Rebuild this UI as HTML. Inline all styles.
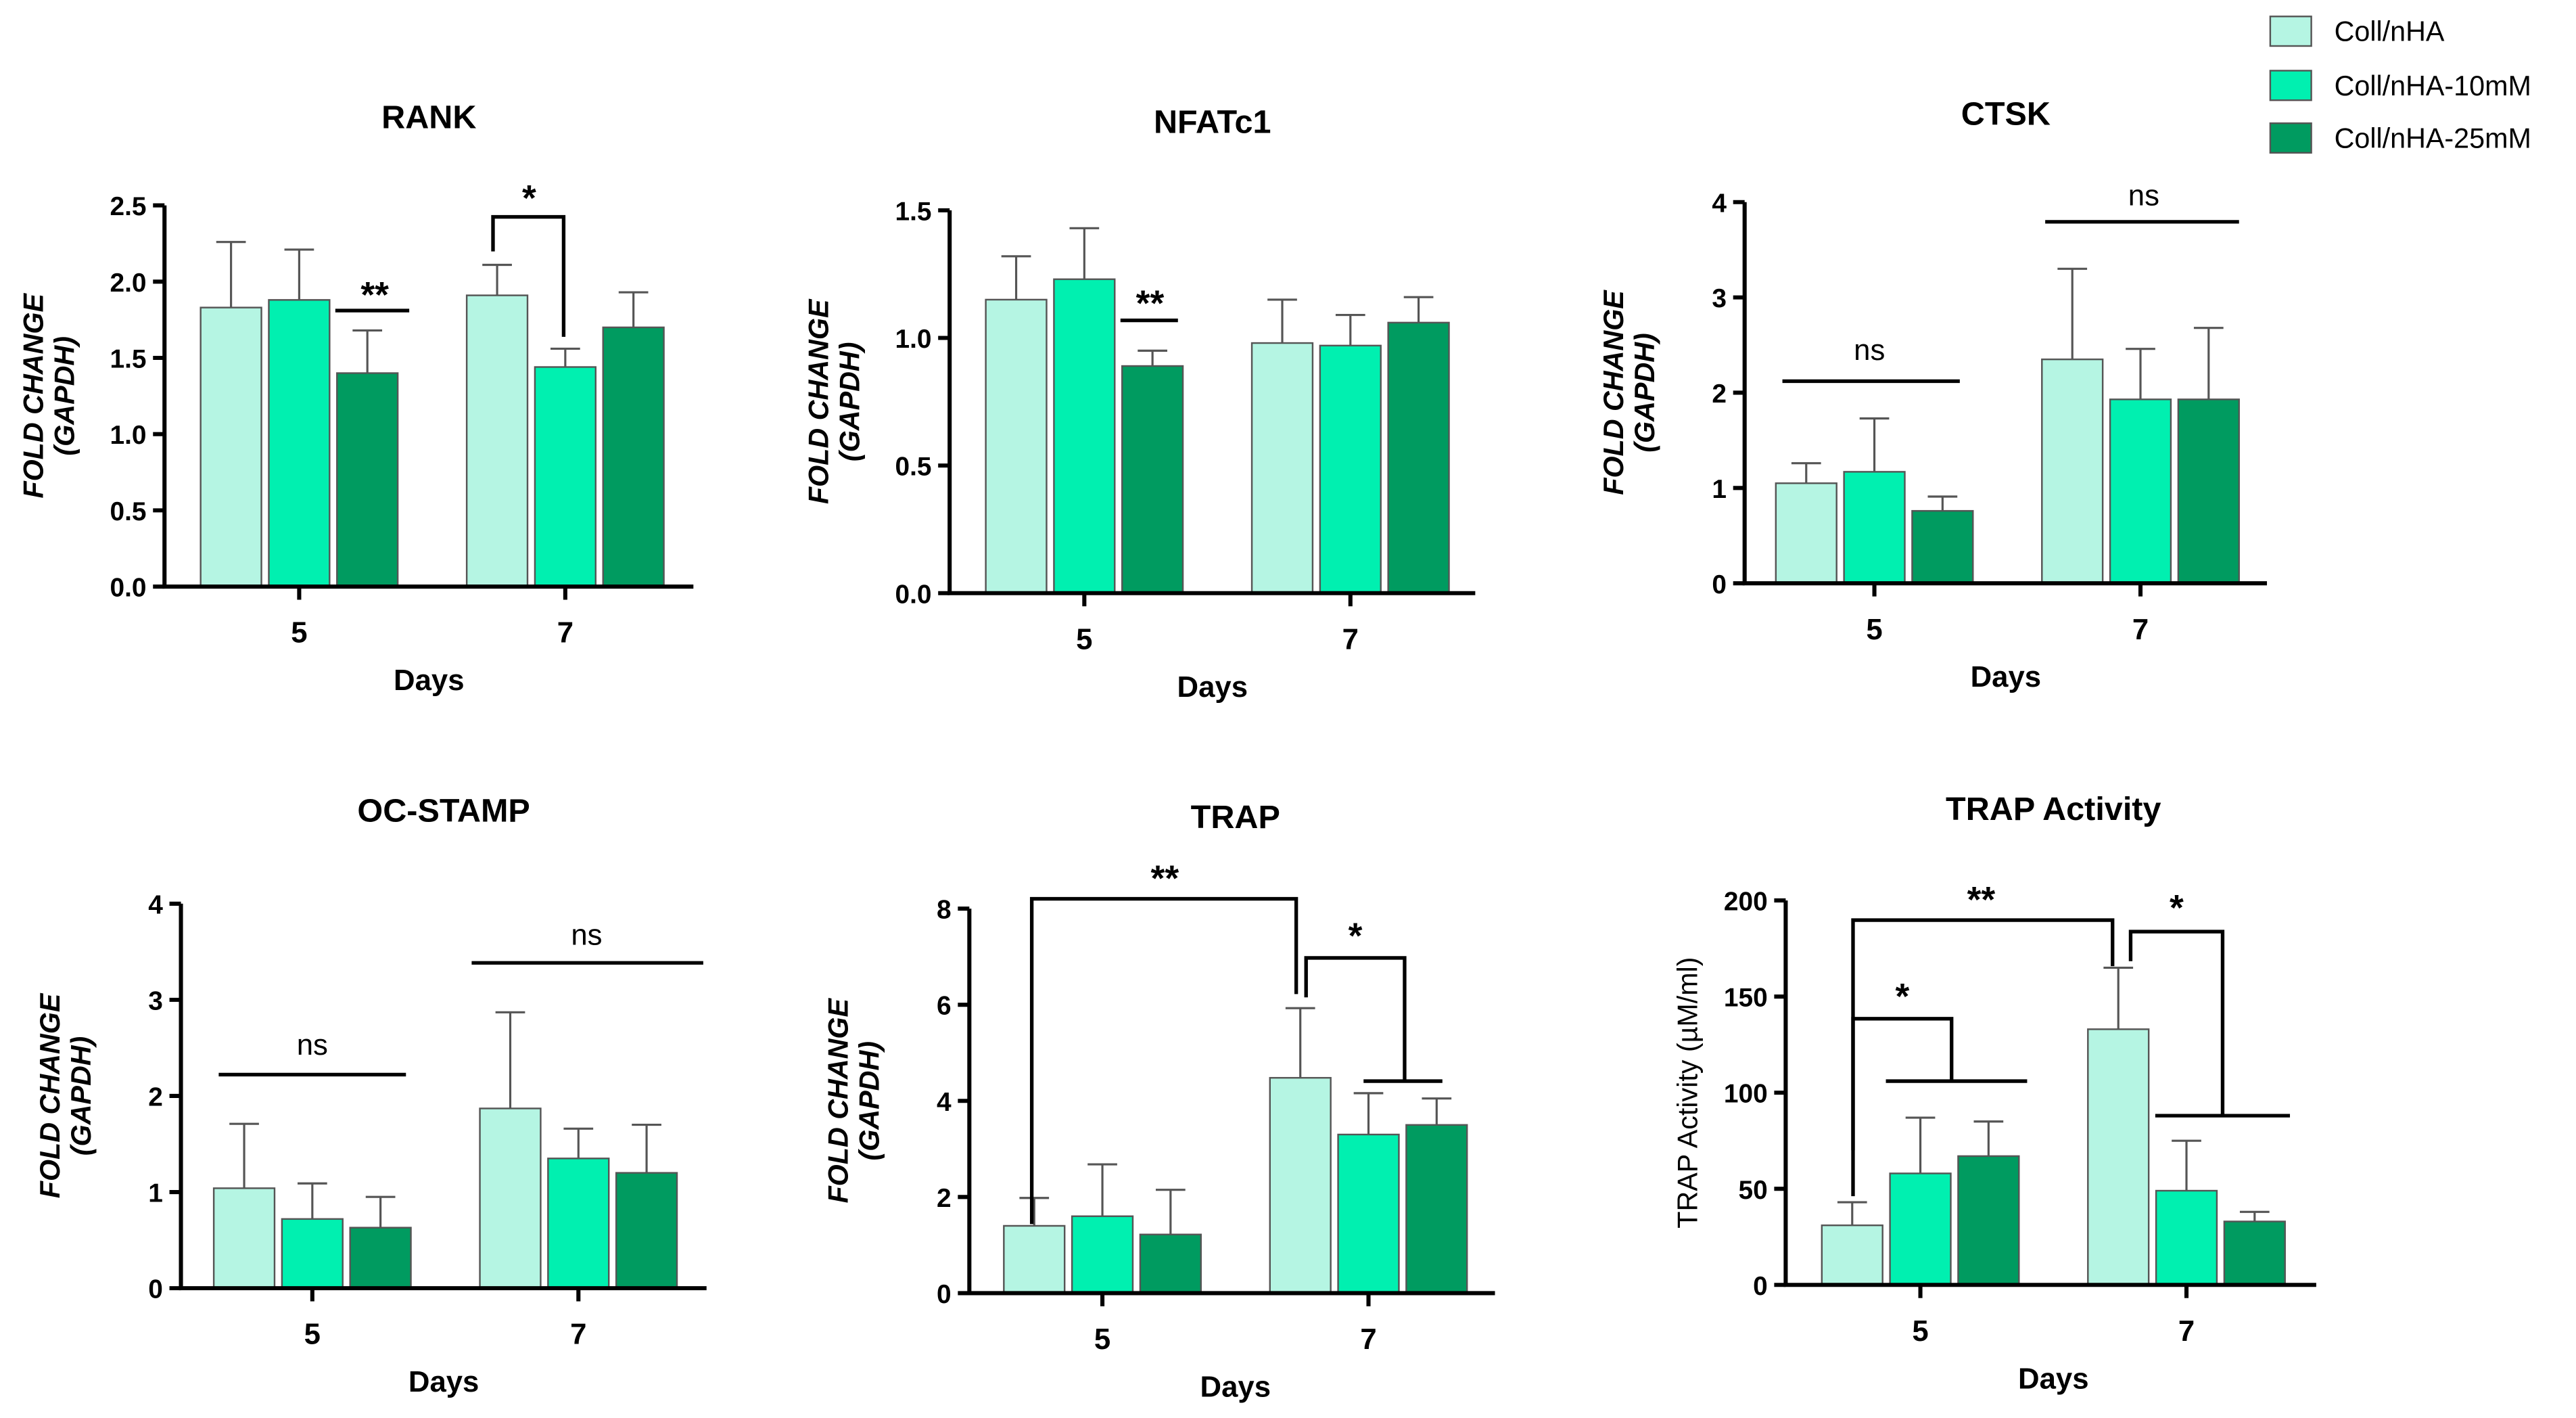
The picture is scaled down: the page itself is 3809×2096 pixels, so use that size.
<!DOCTYPE html>
<html><head><meta charset="utf-8"><style>
html,body{margin:0;padding:0;background:#fff;}
svg{display:block;}
text{font-family:"Liberation Sans",Arial,sans-serif;fill:#000;}
.tick{font-family:"Liberation Sans Narrow","Liberation Sans",sans-serif;font-weight:bold;font-size:16px;}
.title{font-weight:bold;font-size:20px;}
.cat{font-weight:bold;font-size:18px;}
.ytitle{font-weight:bold;font-style:italic;font-size:17px;}
.sig{font-weight:bold;font-size:22px;}
.ns{font-weight:normal;font-size:18px;}
.leg{font-size:17px;}
</style></head><body>
<svg id="fig" width="3809" height="2096" viewBox="0 0 1568 863" xmlns="http://www.w3.org/2000/svg">
<g id="legend">
 <g><rect x="1382" y="10" width="25" height="18" fill="#b5f5e3" stroke="#555"/><text class="leg" x="1421" y="25">Coll/nHA</text></g>
 <g><rect x="1382" y="43" width="25" height="18" fill="#00f0b0" stroke="#555"/><text class="leg" x="1421" y="58">Coll/nHA-10mM</text></g>
 <g><rect x="1382" y="75" width="25" height="18" fill="#009b60" stroke="#555"/><text class="leg" x="1421" y="90">Coll/nHA-25mM</text></g>
</g>
</svg>
<script>
const categories = ["5","7"];
const seriesNames = ["Coll/nHA","Coll/nHA-10mM","Coll/nHA-25mM"];
const rankMeans = [[1.83,1.88,1.40],[1.91,1.44,1.70]];
const rankErr = [[2.26,2.21,1.68],[2.11,1.56,1.93]];
const nfatMeans = [[1.15,1.23,0.89],[0.98,0.97,1.06]];
const nfatErr = [[1.32,1.43,0.95],[1.15,1.09,1.16]];
const ctskMeans = [[1.05,1.17,0.76],[2.35,1.93,1.93]];
const ctskErr = [[1.26,1.73,0.91],[3.30,2.46,2.68]];
const ocMeans = [[1.04,0.72,0.63],[1.87,1.35,1.20]];
const ocErr = [[1.71,1.09,0.95],[2.87,1.66,1.70]];
const trapMeans = [[1.40,1.60,1.22],[4.48,3.30,3.50]];
const trapErr = [[1.98,2.68,2.15],[5.93,4.16,4.05]];
const actMeans = [[31,58,67],[133,49,33]];
const actErr = [[43,87,85],[165,75,38]];
const rankTicks = ["0.0","0.5","1.0","1.5","2.0","2.5"];
const nfatTicks = ["0.0","0.5","1.0","1.5"];
const ctskTicks = ["0","1","2","3","4"];
const ocTicks = ["0","1","2","3","4"];
const trapTicks = ["0","2","4","6","8"];
const actTicks = ["0","50","100","150","200"];
const colors = ["#b5f5e3","#00f0b0","#009b60"];

const NS="http://www.w3.org/2000/svg";
const fig=document.getElementById('fig');
function mk(tag,attrs,parent){const e=document.createElementNS(NS,tag);for(const k in attrs)e.setAttribute(k,attrs[k]);(parent||fig).appendChild(e);return e;}

function panel(p){
 const g=mk('g',{});
 
 
 const max=+p.ticks[p.ticks.length-1];
 const y=v=>p.y0-(v/max)*(p.y0-p.yTop);
 const gx=p.groupX;
 const bw=37, step=41.5;
 const barX=(gi,si)=>gx[gi]+si*step;
 p.means.forEach((grp,gi)=>grp.forEach((v,si)=>{
  const bx=barX(gi,si);
  const eTop=y(p.err[gi][si]);
  const el=mk('line',{x1:bx+bw/2,x2:bx+bw/2,y1:y(v),y2:eTop,stroke:'#555','stroke-width':1.3},g);
  
  
  const cap=mk('line',{x1:bx+bw/2-9,x2:bx+bw/2+9,y1:eTop,y2:eTop,stroke:'#555','stroke-width':1.3},g);
  
  
  const r=mk('rect',{x:bx,y:y(v),width:bw,height:p.y0-y(v),fill:colors[si],stroke:'#555','stroke-width':1},g);
  
  
 }));
 const ax=mk('path',{d:`M${p.axX},${p.yTop}V${p.y0}H${p.axEnd}`,stroke:'#000','stroke-width':2.5,fill:'none'},g);
 
 
 p.ticks.forEach(t=>{
  const ty=y(+t);
  mk('line',{x1:p.axX-7,x2:p.axX,y1:ty,y2:ty,stroke:'#000','stroke-width':2.5},g);
  const tx=mk('text',{x:p.axX-11,y:ty+6,'text-anchor':'end',class:'tick'},g);
  tx.textContent=t;
  
  
 });
 categories.forEach((c,gi)=>{
  const cx=barX(gi,1)+bw/2;
  mk('line',{x1:cx,x2:cx,y1:p.y0,y2:p.y0+8,stroke:'#000','stroke-width':2.5},g);
  const t=mk('text',{x:cx,y:p.y0+34,'text-anchor':'middle',class:'cat'},g);
  t.textContent=c;
  
  
 });
 const mid=(p.axX+p.axEnd)/2;
 const tt=mk('text',{x:p.titleX||mid,y:p.titleY,'text-anchor':'middle',class:'title'},g);
 tt.textContent=p.title;
 
 
 const dx=mk('text',{x:p.titleX||mid,y:p.y0+63,'text-anchor':'middle',class:'cat'},g);
 dx.textContent='Days';
 
 
 const yc=(p.y0+p.yTop)/2;
 if(p.activity){
  const a=mk('text',{transform:`translate(${p.axX-54},${yc}) rotate(-90)`,'text-anchor':'middle',style:'font-weight:normal;font-size:17px'},g);
  a.textContent='TRAP Activity (µM/ml)';
  
  
 } else {
  const a=mk('text',{transform:`translate(${p.axX-74},${yc}) rotate(-90)`,'text-anchor':'middle',class:'ytitle'},g);
  a.textContent='FOLD CHANGE';
  
  
  const b=mk('text',{transform:`translate(${p.axX-55},${yc}) rotate(-90)`,'text-anchor':'middle',class:'ytitle'},g);
  b.textContent='(GAPDH)';
  
  
 }
 (p.sig||[]).forEach(s=>{
  const pa=mk('path',{d:s.d,stroke:'#000','stroke-width':2.2,fill:'none'},g);
  
  
  if(!s.t) return;
  const st=mk('text',{x:s.tx,y:s.ty,'text-anchor':'middle',class:s.t==='ns'?'ns':'sig'},g);
  st.textContent=s.t;
  
  
 });
}

panel({name:'rank',title:'RANK',titleY:78,means:rankMeans,err:rankErr,ticks:rankTicks,axX:100,axEnd:422,y0:357,yTop:125,groupX:[122,284],
 sig:[{d:'M204,189H249',t:'**',tx:228,ty:187},{d:'M300,153V132H343V205',t:'*',tx:322,ty:128}]});
panel({name:'nfatc1',title:'NFATc1',titleY:81,means:nfatMeans,err:nfatErr,ticks:nfatTicks,axX:578,axEnd:898,y0:361,yTop:128,groupX:[600,762],
 sig:[{d:'M682,195H717',t:'**',tx:700,ty:192}]});
panel({name:'ctsk',title:'CTSK',titleY:76,means:ctskMeans,err:ctskErr,ticks:ctskTicks,axX:1062,axEnd:1380,y0:355,yTop:123,groupX:[1081,1243],
 sig:[{d:'M1085,232H1193',t:'ns',tx:1138,ty:219},{d:'M1245,135H1363',t:'ns',tx:1305,ty:125}]});
panel({name:'oc-stamp',title:'OC-STAMP',titleY:500,means:ocMeans,err:ocErr,ticks:ocTicks,axX:110,axEnd:430,y0:784,yTop:550,groupX:[130,292],titleX:270,
 sig:[{d:'M133,654H247',t:'ns',tx:190,ty:642},{d:'M287,586H428',t:'ns',tx:357,ty:575}]});
panel({name:'trap',title:'TRAP',titleY:504,means:trapMeans,err:trapErr,ticks:trapTicks,axX:590,axEnd:910,y0:787,yTop:553,groupX:[611,773],titleX:752,
 sig:[{d:'M628,745V547H789V605',t:'**',tx:709,ty:542},{d:'M795,607V583H855V658',t:'*',tx:825,ty:577},{d:'M830,658H878',t:'',tx:0,ty:0}]});
panel({name:'trap-activity',title:'TRAP Activity',titleY:499,activity:true,means:actMeans,err:actErr,ticks:actTicks,axX:1087,axEnd:1410,y0:782,yTop:548,groupX:[1109,1271],titleX:1250,
 sig:[{d:'M1128,728V560H1286V588',t:'**',tx:1206,ty:555},{d:'M1128,700V620H1188V658',t:'*',tx:1158,ty:614},{d:'M1148,658H1234',t:'',tx:0,ty:0},
      {d:'M1297,585V567H1353V679',t:'*',tx:1325,ty:560},{d:'M1312,679H1394',t:'',tx:0,ty:0}]});
</script>
</body></html>
